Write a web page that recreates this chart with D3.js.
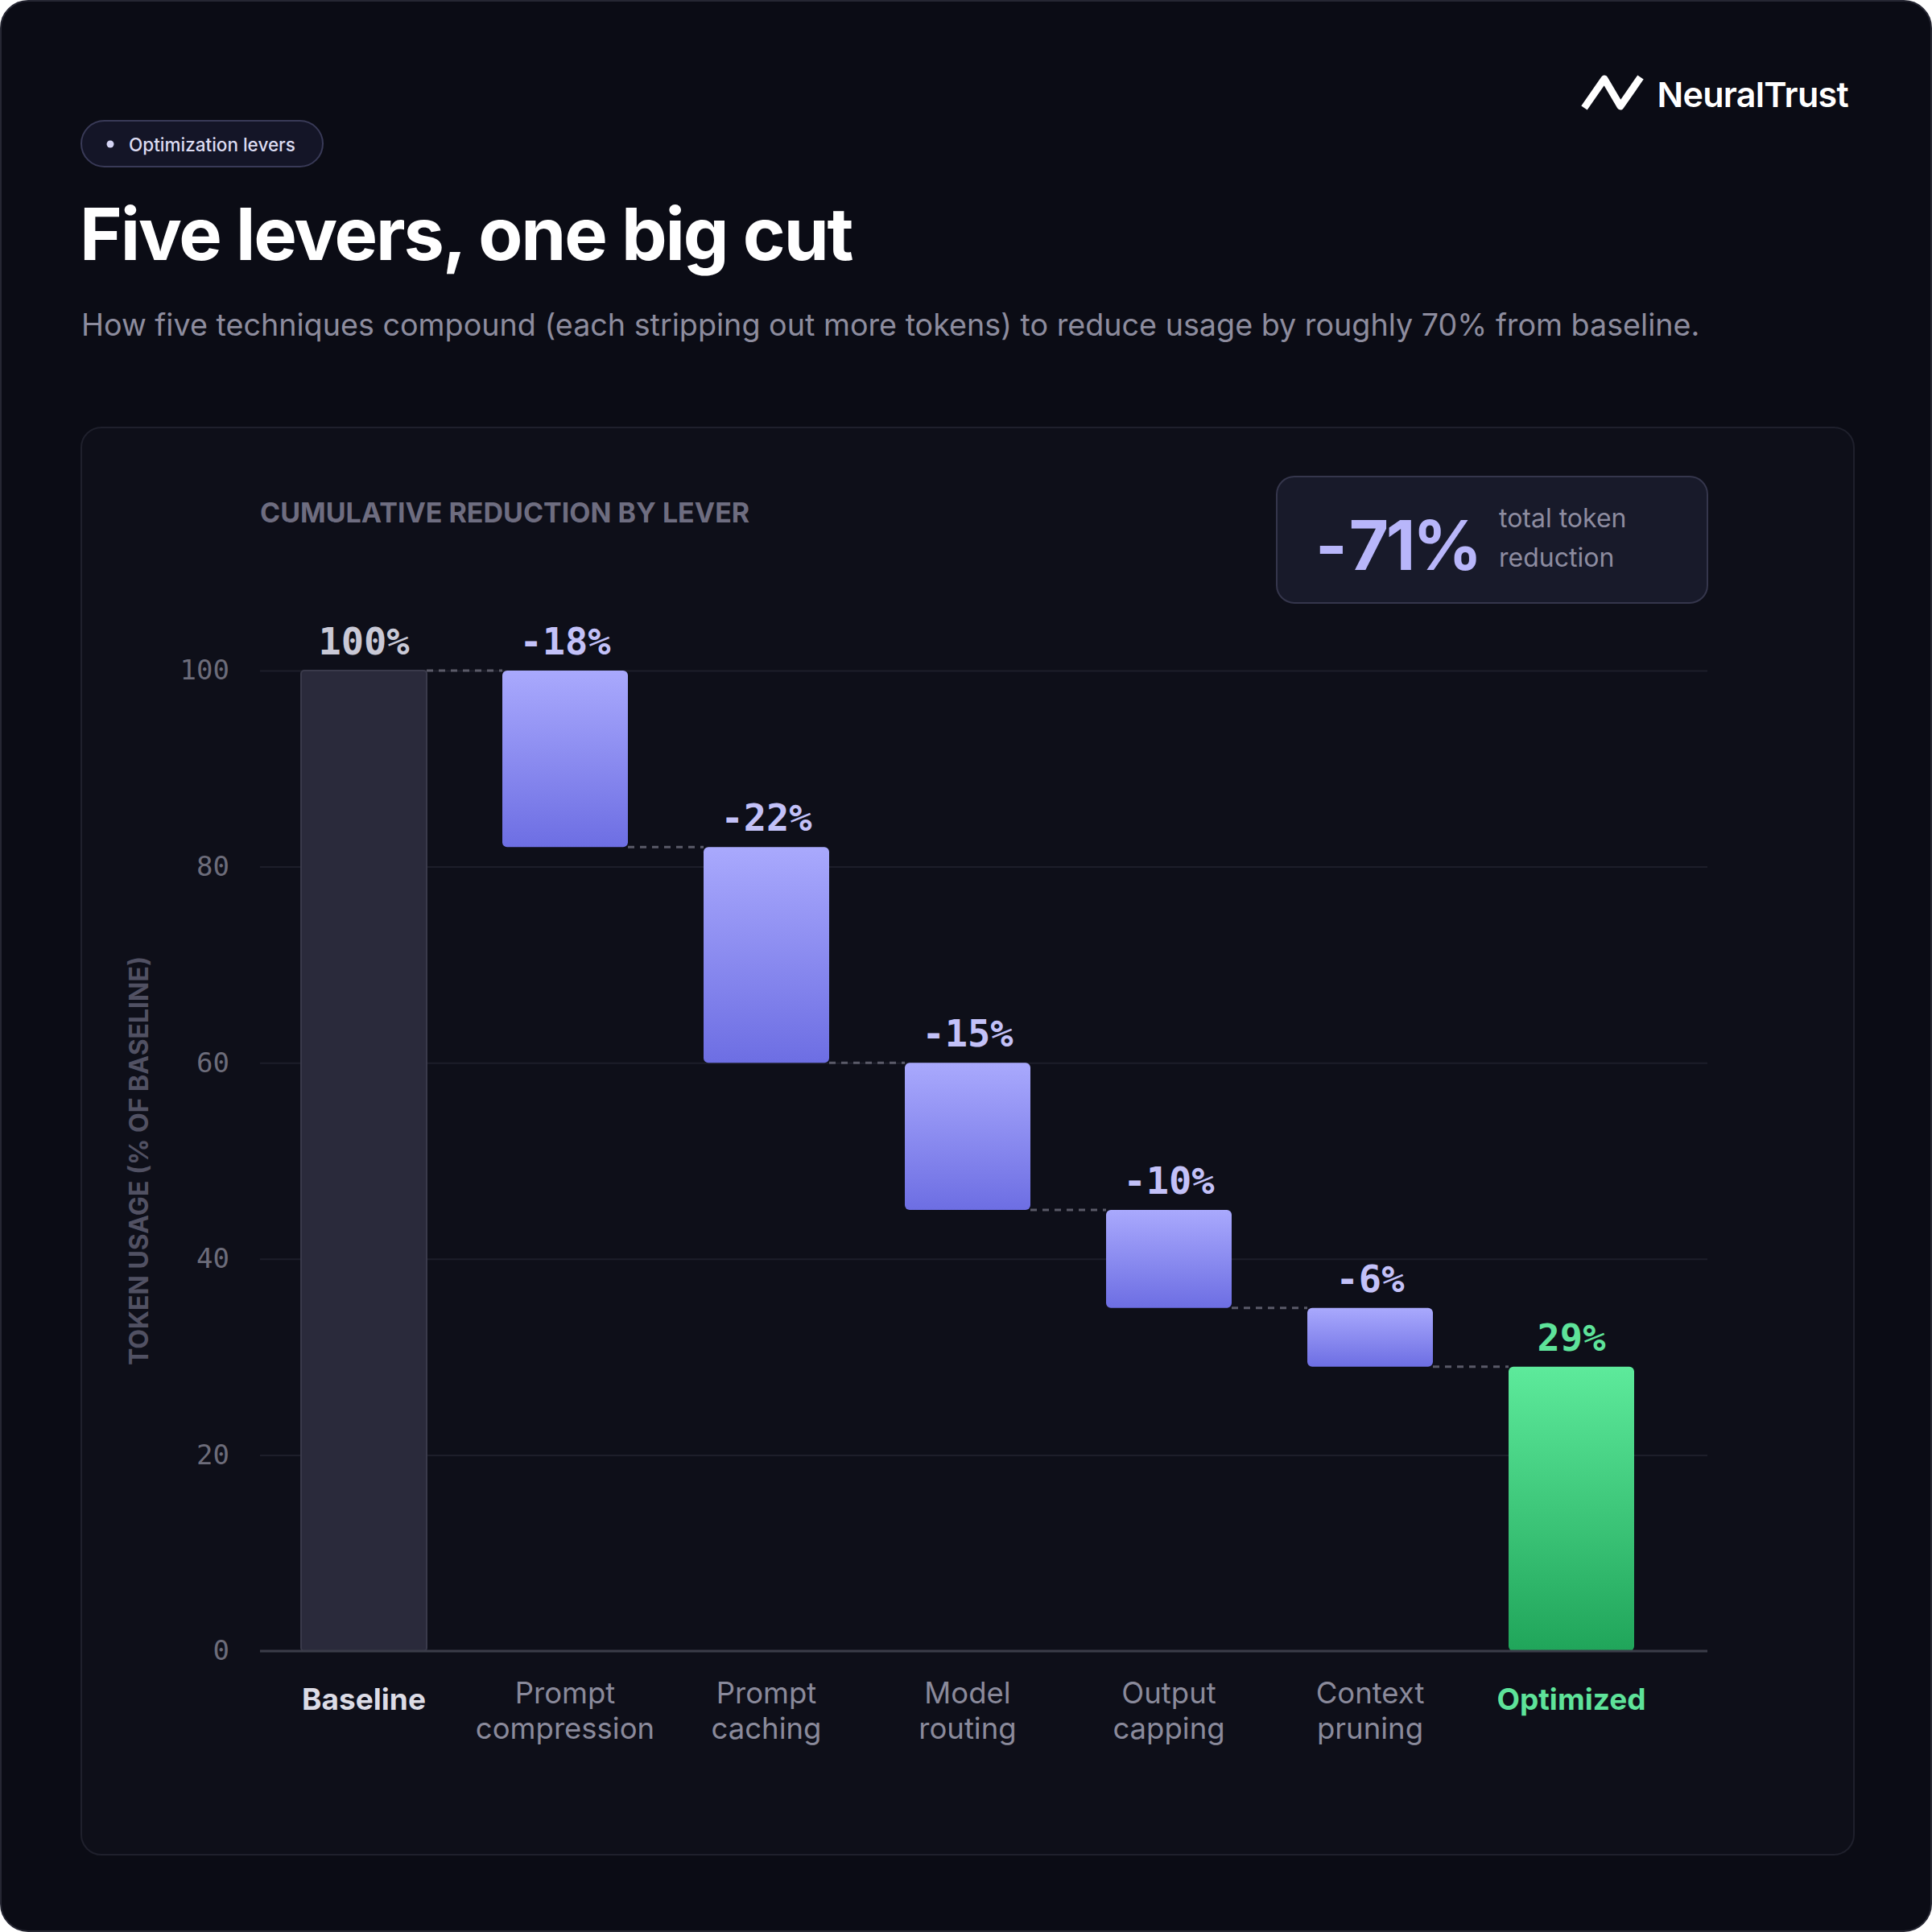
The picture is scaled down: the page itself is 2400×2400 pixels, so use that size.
<!DOCTYPE html>
<html>
<head>
<meta charset="utf-8">
<script src="https://cdn.jsdelivr.net/npm/d3@7"></script>
<style>
  html, body { margin: 0; padding: 0; background: #ffffff; }
  svg { display: block; }
</style>
</head>
<body>
<svg id="chart"></svg>
<script>
// data
const categories = ["Baseline", "Prompt compression", "Prompt caching", "Model routing", "Output capping", "Context pruning", "Optimized"];
const categoryLines = [["Baseline"], ["Prompt", "compression"], ["Prompt", "caching"], ["Model", "routing"], ["Output", "capping"], ["Context", "pruning"], ["Optimized"]];
const baselineValue = 100;
const leverCuts = [18, 22, 15, 10, 6];
const yTicks = [0, 20, 40, 60, 80, 100];
const totalCut = 71;

const W = 2400, H = 2400;
const sans = "Inter, 'Noto Sans', sans-serif";
const mono = "'DejaVu Sans Mono', 'Liberation Mono', monospace";

const svg = d3.select("#chart").attr("width", W).attr("height", H);

// build waterfall steps
let level = baselineValue;
const steps = [{ name: categories[0], kind: "base", top: baselineValue, bottom: 0, label: baselineValue + "%" }];
leverCuts.forEach((c, i) => {
  steps.push({ name: categories[i + 1], kind: "cut", top: level, bottom: level - c, label: "-" + c + "%" });
  level -= c;
});
steps.push({ name: categories[6], kind: "final", top: level, bottom: 0, label: level + "%" });

// gradients
const defs = svg.append("defs");
const gPurple = defs.append("linearGradient").attr("id", "gPurple").attr("x1", 0).attr("y1", 0).attr("x2", 0).attr("y2", 1);
gPurple.append("stop").attr("offset", "0%").attr("stop-color", "#a9a9fd");
gPurple.append("stop").attr("offset", "100%").attr("stop-color", "#6d6ee3");
const gGreen = defs.append("linearGradient").attr("id", "gGreen").attr("x1", 0).attr("y1", 0).attr("x2", 0).attr("y2", 1);
gGreen.append("stop").attr("offset", "0%").attr("stop-color", "#5dea9b");
gGreen.append("stop").attr("offset", "100%").attr("stop-color", "#20a55a");

// outer card
svg.append("rect").attr("x", 1).attr("y", 1).attr("width", W - 2).attr("height", H - 2)
  .attr("rx", 34).attr("fill", "#0b0c15").attr("stroke", "#262733").attr("stroke-width", 2);

// pill
svg.append("rect").attr("x", 101).attr("y", 150).attr("width", 300).attr("height", 57).attr("rx", 28.5)
  .attr("fill", "#141527").attr("stroke", "#393a57").attr("stroke-width", 2);
svg.append("circle").attr("cx", 137).attr("cy", 179).attr("r", 4.5).attr("fill", "#d4d4f4");
svg.append("text").attr("x", 160).attr("y", 179).attr("dominant-baseline", "central")
  .attr("font-family", sans).attr("font-size", 22.5).attr("font-weight", 500).attr("fill", "#dcdcf2")
  .text("Optimization levers");

// title + subtitle
svg.append("text").attr("x", 99).attr("y", 323)
  .attr("font-family", sans).attr("font-size", 90).attr("font-weight", 700).attr("letter-spacing", -2.1)
  .attr("fill", "#ffffff").text("Five levers, one big cut");
svg.append("text").attr("x", 101).attr("y", 417)
  .attr("font-family", sans).attr("font-size", 37.7).attr("fill", "#8d8c9e")
  .text("How five techniques compound (each stripping out more tokens) to reduce usage by roughly 70% from baseline.");

// logo
svg.append("path").attr("d", "M1968,134 L1993,98 L2013,132 L2038,96")
  .attr("fill", "none").attr("stroke", "#ffffff").attr("stroke-width", 9)
  .attr("stroke-linejoin", "round").attr("stroke-linecap", "butt");
svg.append("text").attr("x", 2296).attr("y", 133).attr("text-anchor", "end")
  .attr("font-family", sans).attr("font-size", 43).attr("font-weight", 600).attr("letter-spacing", -0.7)
  .attr("fill", "#ffffff").text("NeuralTrust");

// chart panel
svg.append("rect").attr("x", 101).attr("y", 531).attr("width", 2202).attr("height", 1773).attr("rx", 25)
  .attr("fill", "#0e0f19").attr("stroke", "#1f202c").attr("stroke-width", 2);

svg.append("text").attr("x", 323).attr("y", 649)
  .attr("font-family", sans).attr("font-size", 34).attr("font-weight", 700).attr("fill", "#6e6d80")
  .text("CUMULATIVE REDUCTION BY LEVER");

// badge
svg.append("rect").attr("x", 1586).attr("y", 592).attr("width", 535).attr("height", 157).attr("rx", 22)
  .attr("fill", "#181a2a").attr("stroke", "#35364c").attr("stroke-width", 2);
const bigNum = svg.append("text").attr("x", 1634).attr("y", 708)
  .attr("font-family", sans).attr("font-size", 85).attr("font-weight", 700).attr("letter-spacing", -3.5)
  .attr("fill", "#b8b6fa");
bigNum.append("tspan").text("-");
bigNum.append("tspan").attr("dx", 8).text(totalCut + "%");
const badgeTxt = svg.append("text").attr("font-family", sans).attr("font-size", 32).attr("fill", "#8d8ca0");
badgeTxt.append("tspan").attr("x", 1862).attr("y", 655).text("total token");
badgeTxt.append("tspan").attr("x", 1862).attr("y", 704).text("reduction");

// scales
const y = d3.scaleLinear().domain([0, 100]).range([2051, 833]);
const x = d3.scaleBand().domain(categories).range([327, 2077]).paddingInner(0.376).paddingOuter(0.188);
const gridX0 = 323, gridX1 = 2121;

// grid
const yAxis = d3.axisLeft(y).tickValues(yTicks).tickSize(-(gridX1 - gridX0)).tickPadding(38);
const gy = svg.append("g").attr("transform", `translate(${gridX0},0)`).call(yAxis);
gy.select(".domain").remove();
gy.selectAll(".tick line").attr("stroke", "#1d1e2a").attr("stroke-width", 2);
gy.selectAll(".tick text").attr("font-family", mono).attr("font-size", 34).attr("fill", "#6c6c7a");

// y axis title
svg.append("text").attr("transform", "translate(184,1442) rotate(-90)").attr("text-anchor", "middle")
  .attr("font-family", sans).attr("font-size", 32).attr("font-weight", 700).attr("fill", "#515163")
  .text("TOKEN USAGE (% OF BASELINE)");

// connectors
svg.selectAll(".conn").data(steps.slice(0, -1)).enter().append("line")
  .attr("x1", d => x(d.name) + x.bandwidth())
  .attr("x2", (d, i) => x(steps[i + 1].name))
  .attr("y1", d => y(d.kind === "cut" ? d.bottom : d.top))
  .attr("y2", d => y(d.kind === "cut" ? d.bottom : d.top))
  .attr("stroke", "#5a5a68").attr("stroke-width", 3).attr("stroke-dasharray", "8 7");

// bars
svg.selectAll(".bar").data(steps).enter().append("rect")
  .attr("x", d => x(d.name))
  .attr("y", d => y(d.top))
  .attr("width", x.bandwidth())
  .attr("height", d => y(d.bottom) - y(d.top))
  .attr("rx", d => d.kind === "base" ? 4 : 6)
  .attr("fill", d => d.kind === "base" ? "#2a2a3b" : d.kind === "cut" ? "url(#gPurple)" : "url(#gGreen)")
  .attr("stroke", d => d.kind === "base" ? "#3a3a4b" : "none")
  .attr("stroke-width", 2);

// zero line
svg.append("line").attr("x1", gridX0).attr("x2", gridX1).attr("y1", y(0)).attr("y2", y(0))
  .attr("stroke", "#3b3c49").attr("stroke-width", 3);

// bar labels
svg.selectAll(".blabel").data(steps).enter().append("text")
  .attr("x", d => x(d.name) + x.bandwidth() / 2)
  .attr("y", d => y(d.top) - 20)
  .attr("text-anchor", "middle")
  .attr("font-family", mono).attr("font-size", 47).attr("font-weight", 700)
  .attr("fill", d => d.kind === "base" ? "#c9c9d6" : d.kind === "cut" ? "#c3c1f8" : "#5ee39a")
  .text(d => d.label);

// category labels
steps.forEach((d, i) => {
  const lines = categoryLines[i];
  const t = svg.append("text")
    .attr("text-anchor", "middle")
    .attr("font-family", sans).attr("font-size", lines.length === 1 ? 37 : 36.5)
    .attr("font-weight", lines.length === 1 ? 700 : 400)
    .attr("fill", d.kind === "base" ? "#dcdce6" : d.kind === "final" ? "#5ee39a" : "#8a8a9b");
  const cx = x(d.name) + x.bandwidth() / 2;
  if (lines.length === 1) {
    t.append("tspan").attr("x", cx).attr("y", 2124).text(lines[0]);
  } else {
    lines.forEach((ln, j) => t.append("tspan").attr("x", cx).attr("y", 2116 + j * 44).text(ln));
  }
});
</script>
</body>
</html>
